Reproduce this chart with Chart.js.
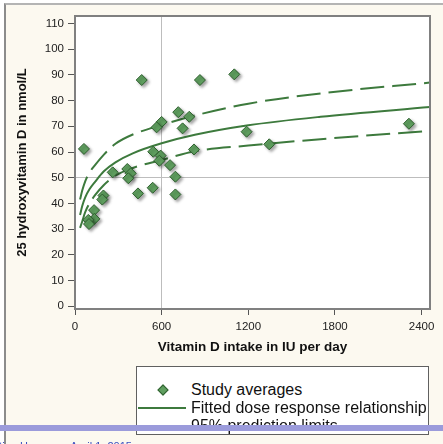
<!DOCTYPE html>
<html>
<head>
<meta charset="utf-8">
<script src="https://cdn.jsdelivr.net/npm/chart.js@4.4.0/dist/chart.umd.min.js"></script>
<style>
  html, body { margin: 0; padding: 0; background: #fff; overflow: hidden; }
  #wrap { position: relative; width: 443px; height: 444px; overflow: hidden; font-family: "Liberation Sans", Arial, sans-serif; }
  #panel { position: absolute; left: 4px; top: 3px; right: 0; bottom: 0; background: #fcf9f0;
           border-left: 2px solid #8c8c8c; border-top: 2px solid #b4b4b4; }
  canvas { position: absolute; left: 0; top: 0; }
  #legend { position: absolute; left: 136px; top: 366px; width: 293px; height: 69px; background: #fff;
            border: 1px solid #606060; box-sizing: border-box; font-size: 16px; color: #111; }
  .row { position: absolute; left: 0; height: 18px; line-height: 18px; white-space: nowrap; }
  .row span.t { position: absolute; left: 54px; }
  .dia { position: absolute; left: 22px; top: 5px; width: 6px; height: 6px; background: #5f9f5f;
         border: 1px solid #2f5f2f; transform: rotate(45deg); }
  .ln { position: absolute; left: 1px; top: 8px; width: 48px; height: 0; border-top: 2px solid #3d7a3d; }
  .dash { border-top: 2px dashed #3d7a3d; }
  #bar { position: absolute; left: 0; top: 425px; width: 443px; height: 6px; background: #9b9bdb; }
  #foot { position: absolute; left: -24px; top: 440px; font-size: 11px; color: #3b4fc0; white-space: nowrap; }
</style>
</head>
<body>
<div id="wrap">
  <div id="panel"></div>
  <canvas id="chart" width="443" height="444"></canvas>
  <div id="legend">
    <div class="row" style="top:14px"><div class="dia"></div><span class="t">Study averages</span></div>
    <div class="row" style="top:32px"><div class="ln"></div><span class="t">Fitted dose response relationship</span></div>
    <div class="row" style="top:50px"><div class="ln dash"></div><span class="t">95% prediction limits</span></div>
  </div>
  <div id="bar"></div>
  <div id="foot">Nutrition Heaney &nbsp;&nbsp;&nbsp;April 1, 2015</div>
</div>
<script>
// study averages (IU/day, nmol/L)
const studyIU = [62, 462, 865, 1103, 715, 791, 600, 565, 745, 1188, 824, 542, 593, 584, 658, 695,
  695, 538, 436, 261, 362, 386, 369, 197, 189, 132, 134, 92, 97, 1345, 2312];
const studyLevel = [61.2, 88.0, 88.0, 90.2, 75.5, 73.7, 71.7, 69.6, 69.2, 67.9, 61.0, 60.1, 58.6, 56.6, 54.9, 50.4,
  43.5, 46.1, 43.9, 52.1, 53.4, 51.7, 49.8, 43.1, 41.5, 37.4, 34.0, 33.6, 32.0, 63.0, 71.0];

// curves
const curveIU = [35, 50, 70, 100, 140, 200, 280, 400, 600, 830, 1200, 1700, 2457];
const fittedLevel = [35.5, 39, 42.3, 45.5, 48.5, 52.5, 56, 59.5, 63.4, 66.7, 70.4, 73.7, 77.5];
const upperLimit = [41.5, 45, 48.5, 52, 55, 59, 63.2, 66.8, 70.5, 74.2, 78.8, 82.8, 87.0];
const lowerLimit = [30.5, 33, 36.5, 40, 43.3, 47.2, 50.8, 53.8, 56.9, 60.3, 62.5, 65, 68.2];

const xTicks = [0, 600, 1200, 1800, 2400];

const green = '#3d7a3d';
const toXY = (xs, ys) => xs.map((x, i) => ({ x: x, y: ys[i] }));

const plotFrame = {
  id: 'plotFrame',
  beforeDraw(chart) {
    const { ctx, chartArea: a } = chart;
    ctx.save();
    ctx.fillStyle = '#fff';
    ctx.fillRect(a.left, a.top, a.width, a.height);
    ctx.restore();
  },
  beforeDatasetDraw(chart, args) {
    if (args.index !== 0) return;
    const ctx = chart.ctx;
    ctx.save();
    ctx.shadowColor = 'rgba(0,0,0,0.35)';
    ctx.shadowBlur = 3;
    ctx.shadowOffsetX = 2;
    ctx.shadowOffsetY = 2;
  },
  afterDatasetDraw(chart, args) {
    if (args.index === 0) chart.ctx.restore();
  },
  afterDatasetsDraw(chart) {
    const { ctx, chartArea: a } = chart;
    ctx.save();
    ctx.strokeStyle = '#808080';
    ctx.lineWidth = 2;
    ctx.strokeRect(a.left, a.top, a.width, a.height);
    ctx.restore();
  }
};

const curve = (label, ys, dash) => ({
  label: label,
  data: toXY(curveIU, ys),
  showLine: true,
  borderColor: green,
  borderWidth: 2,
  borderDash: dash,
  pointRadius: 0,
  cubicInterpolationMode: 'monotone'
});

new Chart(document.getElementById('chart'), {
  type: 'scatter',
  data: {
    datasets: [
      {
        label: 'Study averages',
        data: toXY(studyIU, studyLevel),
        pointStyle: 'rectRot',
        pointRadius: 5.5,
        backgroundColor: '#5f9f5f',
        borderColor: '#2f5f2f',
        borderWidth: 1
      },
      curve('Fitted dose response relationship', fittedLevel, []),
      curve('95% prediction limits', upperLimit, [24, 8]),
      curve('95% prediction limits', lowerLimit, [24, 8])
    ]
  },
  options: {
    responsive: false,
    devicePixelRatio: 1,
    animation: false,
    layout: { padding: { left: 11, top: 16, right: 13, bottom: 85 } },
    plugins: { legend: { display: false }, tooltip: { enabled: false } },
    scales: {
      x: {
        min: 0, max: 2458,
        afterBuildTicks: s => { s.ticks = xTicks.map(v => ({ value: v })); },
        afterFit: s => { s.height = 50; },
        grid: {
          color: c => (c.tick && c.tick.value === 600) ? '#bdbdbd' : 'rgba(0,0,0,0)',
          tickColor: '#555', tickLength: 6, lineWidth: 1
        },
        border: { color: '#808080', width: 2 },
        ticks: { color: '#222', padding: 5, maxRotation: 0, callback: v => String(v),
                 font: { family: 'Liberation Sans', size: 11.5 } },
        title: { display: true, text: 'Vitamin D intake in IU per day', color: '#111',
                 font: { family: 'Liberation Sans', size: 13.5, weight: 'bold' } }
      },
      y: {
        min: -1.05, max: 112.9,
        afterBuildTicks: s => { s.ticks = []; for (let v = 0; v <= 110; v += 10) s.ticks.push({ value: v }); },
        afterFit: s => { s.width = 64; },
        grid: {
          color: c => (c.tick && c.tick.value === 50) ? '#bdbdbd' : 'rgba(0,0,0,0)',
          tickColor: '#555', tickLength: 7, lineWidth: 1
        },
        border: { color: '#808080', width: 2 },
        ticks: { color: '#222', padding: 4, callback: v => String(v),
                 font: { family: 'Liberation Sans', size: 11.5 } },
        title: { display: true, text: '25 hydroxyvitamin D in nmol/L', color: '#111',
                 font: { family: 'Liberation Sans', size: 13, weight: 'bold' } }
      }
    }
  },
  plugins: [plotFrame]
});
</script>
</body>
</html>
